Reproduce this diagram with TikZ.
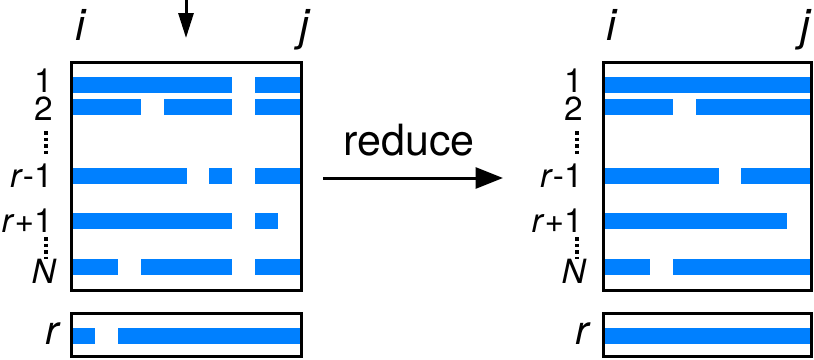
\documentclass[tikz,border=0pt]{standalone}
\usepackage{fontspec}
\setmainfont{TeX Gyre Heros}
\usetikzlibrary{arrows.meta}
\definecolor{cellblue}{RGB}{0,128,255}

\begin{document}
\begin{tikzpicture}[
    x=0.02cm, y=-0.02cm,
    cell/.style={fill=cellblue},
    frame/.style={draw=black, line width=0.06cm},
    rowlabel/.style={anchor=base east, inner sep=0pt, font=\fontsize{19}{21}\selectfont},
    collabel/.style={anchor=base, inner sep=0pt, font=\fontsize{25}{30}\selectfont\itshape},
    vdots/.style={line width=0.07cm, dash pattern=on 0.07cm off 0.06cm},
    arrow/.style={-{Triangle[length=0.55cm, width=0.42cm]}, line width=0.06cm}
]
    \useasboundingbox (0,0) rectangle (814,359);

    % Left: matrix before the reduction
    \foreach \a/\b/\y in {0/7/85, 8/10/85, 0/3/107, 4/7/107, 8/10/107,
                          0/5/176, 6/7/176, 8/10/176, 0/7/221, 8/9/221,
                          0/2/267, 3/7/267, 8/10/267, 0/1/336, 2/9/336, 9/10/336}
        \fill[cell] ({72+22.9*\a},{\y-8}) rectangle ({72+22.9*\b},{\y+8});
    \draw[frame] (71.7,62) rectangle (301,290.5);
    \draw[frame] (71.7,313) rectangle (301,356);

    \node[collabel] (li) at (80,40) {i};
    \node[collabel] (lj) at (304,40) {j};
    \node[rowlabel] (lone) at (53,92) {1};
    \node[rowlabel] (ltwo) at (53,120) {2};
    \node[rowlabel] (lrm) at (53,187) {\textit{r}-1};
    \node[rowlabel] (lrp) at (53,232) {\textit{r}+1};
    \node[rowlabel] (lN) at (57,283) {\textit{N}};
    \node[rowlabel, font=\fontsize{23}{26}\selectfont\itshape] (lr) at (59,344) {r};
    \draw[vdots] (46,131) -- (46,155);
    \draw[vdots] (46,237) -- (46,259);

    % column being removed
    \coordinate (pickfrom) at (186,0);
    \coordinate (pickto) at (186,38);
    \draw[arrow, -{Triangle[length=0.5cm, width=0.3cm]}] (pickfrom) -- (pickto);

    % Middle: reduce step
    \coordinate (redfrom) at (323,178);
    \coordinate (redto) at (503,178);
    \draw[arrow] (redfrom) -- (redto);
    \node[anchor=base, inner sep=0pt, font=\fontsize{24.5}{29}\selectfont] (reduce) at (409,155) {reduce};

    % Right: matrix after the reduction
    \foreach \a/\b/\y in {0/7/85, 7/9/85, 0/3/107, 4/7/107, 7/9/107,
                          0/5/176, 6/7/176, 7/9/176, 0/7/221, 7/8/221,
                          0/2/267, 3/7/267, 7/9/267, 0/1/336, 1/9/336}
        \fill[cell] ({604+22.9*\a},{\y-8}) rectangle ({604+22.9*\b},{\y+8});
    \draw[frame] (603,62) rectangle (811,290.5);
    \draw[frame] (603,313) rectangle (811,356);

    \node[collabel] (ri) at (611,40) {i};
    \node[collabel] (rj) at (805,40) {j};
    \node[rowlabel] (rone) at (583,92) {1};
    \node[rowlabel] (rtwo) at (583,120) {2};
    \node[rowlabel] (rrm) at (583,187) {\textit{r}-1};
    \node[rowlabel] (rrp) at (583,232) {\textit{r}+1};
    \node[rowlabel] (rN) at (587,283) {\textit{N}};
    \node[rowlabel, font=\fontsize{23}{26}\selectfont\itshape] (rr) at (589,344) {r};
    \draw[vdots] (577,131) -- (577,155);
    \draw[vdots] (577,237) -- (577,259);

\end{tikzpicture}
\end{document}
